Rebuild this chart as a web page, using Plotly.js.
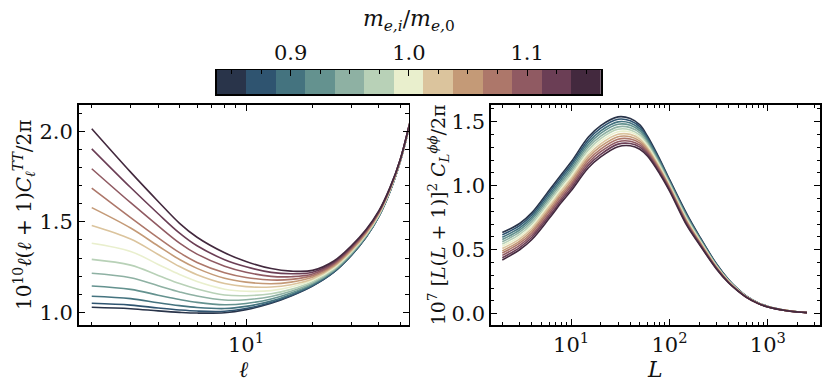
<!DOCTYPE html>
<html>
<head>
<meta charset="utf-8">
<script src="https://cdn.plot.ly/plotly-3.0.1.min.js"></script>
<style>html,body{margin:0;padding:0;background:#fff;}</style>
</head>
<body>
<div id="chart" style="width:831px;height:392px"></div>
<script>
// electron mass ratio of each curve, and the colour used for it
const massValues = [0.85, 0.875, 0.9, 0.925, 0.95, 0.975, 1.0, 1.025, 1.05, 1.075, 1.1, 1.125, 1.15];
const massColors = [
  "#29344a", "#2f5470", "#44737f", "#64928f", "#8eb1a3", "#b8d1b7", "#e9efcd",
  "#dbc49d", "#c49a77", "#ad776a", "#905a62", "#6b3e55", "#43293e",
];

// left panel: 10^10 l(l+1) C_l^TT / 2pi
const ellValues = [2, 3, 4, 5, 6, 8, 10, 13, 16, 20, 25, 30, 35, 40, 45, 50, 55, 60];
const ttSpectra = [
  [1.028, 1.020, 1.008, 1.000, 0.996, 0.998, 1.015, 1.050, 1.090, 1.145, 1.222, 1.315, 1.415, 1.530, 1.670, 1.835, 2.030, 2.240],
  [1.050, 1.040, 1.024, 1.013, 1.007, 1.006, 1.021, 1.054, 1.093, 1.147, 1.223, 1.316, 1.416, 1.531, 1.671, 1.835, 2.030, 2.240],
  [1.089, 1.076, 1.053, 1.037, 1.027, 1.021, 1.033, 1.062, 1.099, 1.151, 1.226, 1.318, 1.418, 1.532, 1.672, 1.836, 2.031, 2.240],
  [1.146, 1.127, 1.095, 1.071, 1.055, 1.042, 1.049, 1.074, 1.107, 1.156, 1.230, 1.322, 1.420, 1.534, 1.673, 1.837, 2.031, 2.240],
  [1.216, 1.191, 1.147, 1.113, 1.090, 1.068, 1.070, 1.088, 1.116, 1.162, 1.234, 1.325, 1.424, 1.536, 1.675, 1.837, 2.032, 2.240],
  [1.293, 1.261, 1.204, 1.159, 1.129, 1.096, 1.092, 1.103, 1.127, 1.169, 1.239, 1.330, 1.427, 1.539, 1.677, 1.838, 2.033, 2.240],
  [1.382, 1.337, 1.265, 1.209, 1.170, 1.128, 1.117, 1.120, 1.140, 1.177, 1.245, 1.335, 1.431, 1.542, 1.679, 1.840, 2.034, 2.240],
  [1.480, 1.405, 1.320, 1.253, 1.208, 1.159, 1.142, 1.140, 1.153, 1.184, 1.251, 1.340, 1.435, 1.545, 1.681, 1.841, 2.035, 2.240],
  [1.579, 1.466, 1.367, 1.292, 1.243, 1.188, 1.167, 1.158, 1.167, 1.194, 1.257, 1.345, 1.439, 1.548, 1.683, 1.842, 2.037, 2.240],
  [1.687, 1.524, 1.412, 1.330, 1.276, 1.219, 1.193, 1.179, 1.182, 1.203, 1.264, 1.351, 1.444, 1.551, 1.686, 1.843, 2.038, 2.240],
  [1.794, 1.606, 1.478, 1.383, 1.322, 1.255, 1.222, 1.199, 1.197, 1.212, 1.270, 1.356, 1.449, 1.555, 1.688, 1.844, 2.039, 2.240],
  [1.904, 1.690, 1.545, 1.438, 1.368, 1.291, 1.252, 1.221, 1.213, 1.222, 1.277, 1.362, 1.454, 1.558, 1.691, 1.846, 2.040, 2.240],
  [2.015, 1.775, 1.613, 1.492, 1.415, 1.329, 1.281, 1.242, 1.228, 1.232, 1.284, 1.368, 1.458, 1.562, 1.694, 1.847, 2.042, 2.240],
];

// right panel: 10^7 [L(L+1)]^2 C_L^phiphi / 2pi
const lValues = [2, 3, 4, 6, 8, 10, 15, 20, 30, 40, 50, 60, 80, 100, 150, 200, 300, 400, 500, 600, 800, 1000, 1500, 2000, 2500];
const phiSpectra = [
  [0.634, 0.705, 0.790, 0.965, 1.090, 1.185, 1.380, 1.470, 1.538, 1.525, 1.475, 1.385, 1.205, 1.050, 0.780, 0.610, 0.390, 0.265, 0.190, 0.140, 0.085, 0.057, 0.027, 0.015, 0.009],
  [0.616, 0.688, 0.773, 0.947, 1.072, 1.166, 1.360, 1.450, 1.519, 1.507, 1.459, 1.372, 1.195, 1.043, 0.773, 0.605, 0.387, 0.263, 0.189, 0.139, 0.085, 0.057, 0.027, 0.015, 0.009],
  [0.598, 0.671, 0.755, 0.928, 1.053, 1.148, 1.340, 1.429, 1.499, 1.490, 1.443, 1.359, 1.186, 1.035, 0.765, 0.599, 0.383, 0.261, 0.188, 0.138, 0.084, 0.056, 0.027, 0.015, 0.009],
  [0.580, 0.654, 0.738, 0.910, 1.035, 1.129, 1.320, 1.409, 1.480, 1.472, 1.428, 1.346, 1.176, 1.028, 0.758, 0.594, 0.380, 0.259, 0.186, 0.137, 0.084, 0.056, 0.027, 0.015, 0.009],
  [0.563, 0.637, 0.720, 0.892, 1.017, 1.110, 1.300, 1.388, 1.460, 1.454, 1.412, 1.333, 1.167, 1.020, 0.750, 0.588, 0.377, 0.257, 0.185, 0.136, 0.083, 0.055, 0.026, 0.015, 0.009],
  [0.545, 0.620, 0.703, 0.873, 0.998, 1.091, 1.280, 1.368, 1.441, 1.436, 1.396, 1.320, 1.157, 1.013, 0.743, 0.583, 0.373, 0.255, 0.184, 0.135, 0.082, 0.055, 0.026, 0.015, 0.009],
  [0.527, 0.603, 0.685, 0.855, 0.980, 1.073, 1.260, 1.348, 1.422, 1.419, 1.380, 1.308, 1.148, 1.005, 0.735, 0.578, 0.370, 0.253, 0.182, 0.135, 0.082, 0.055, 0.026, 0.015, 0.009],
  [0.509, 0.585, 0.668, 0.837, 0.962, 1.054, 1.240, 1.327, 1.402, 1.401, 1.364, 1.295, 1.138, 0.998, 0.728, 0.572, 0.367, 0.250, 0.181, 0.134, 0.081, 0.055, 0.026, 0.015, 0.009],
  [0.491, 0.568, 0.650, 0.818, 0.943, 1.035, 1.220, 1.307, 1.383, 1.383, 1.348, 1.282, 1.128, 0.990, 0.720, 0.567, 0.363, 0.248, 0.180, 0.133, 0.081, 0.054, 0.026, 0.014, 0.009],
  [0.474, 0.551, 0.633, 0.800, 0.925, 1.016, 1.200, 1.286, 1.363, 1.365, 1.333, 1.269, 1.119, 0.983, 0.713, 0.561, 0.360, 0.246, 0.179, 0.132, 0.080, 0.054, 0.026, 0.014, 0.009],
  [0.456, 0.534, 0.615, 0.782, 0.907, 0.998, 1.180, 1.266, 1.344, 1.348, 1.317, 1.256, 1.109, 0.975, 0.705, 0.556, 0.357, 0.244, 0.178, 0.131, 0.080, 0.053, 0.025, 0.014, 0.009],
  [0.438, 0.517, 0.598, 0.763, 0.888, 0.979, 1.160, 1.245, 1.325, 1.330, 1.301, 1.243, 1.100, 0.968, 0.698, 0.550, 0.353, 0.242, 0.176, 0.131, 0.079, 0.053, 0.025, 0.014, 0.009],
  [0.420, 0.500, 0.580, 0.745, 0.870, 0.960, 1.140, 1.225, 1.305, 1.312, 1.285, 1.230, 1.090, 0.960, 0.690, 0.545, 0.350, 0.240, 0.175, 0.130, 0.079, 0.053, 0.025, 0.014, 0.009],
];

// tick labels
const colorTickVals = [0.9, 1.0, 1.1];
const colorTickText = ["0.9", "1.0", "1.1"];
const ellTickVals = [10];
const ellTickText = ["10<sup>1</sup>"];
const ellMinorVals = [2, 3, 4, 5, 6, 7, 8, 9, 20, 30, 40, 50];
const lTickVals = [10, 100, 1000];
const lTickText = ["10<sup>1</sup>", "10<sup>2</sup>", "10<sup>3</sup>"];
const lMinorVals = [2, 3, 4, 5, 6, 7, 8, 9, 20, 30, 40, 50, 60, 70, 80, 90,
  200, 300, 400, 500, 600, 700, 800, 900, 2000, 3000];

const serif = "'DejaVu Serif', 'Liberation Serif', serif";
const W = 831, H = 392;

const traces = [];
ttSpectra.forEach((vals, i) => {
  traces.push({
    type: "scatter", mode: "lines", x: ellValues, y: vals,
    xaxis: "x", yaxis: "y",
    line: { color: massColors[i], width: 1.6, shape: "spline", smoothing: 1 },
    showlegend: false, hoverinfo: "skip",
  });
});
phiSpectra.forEach((vals, i) => {
  traces.push({
    type: "scatter", mode: "lines", x: lValues, y: vals,
    xaxis: "x2", yaxis: "y2",
    line: { color: massColors[i], width: 1.6, shape: "spline", smoothing: 1 },
    showlegend: false, hoverinfo: "skip",
  });
});
// colour bar drawn as a one-row heatmap
traces.push({
  type: "heatmap", x: massValues, y: [0], z: [massValues],
  xaxis: "x3", yaxis: "y3",
  zmin: 0.85, zmax: 1.15,
  colorscale: massColors.map((c, i) => [i / 12, c]),
  showscale: false, hoverinfo: "skip",
});

function frameAxis(extra) {
  return Object.assign({
    showline: true, linecolor: "#000", linewidth: 1.5, mirror: "allticks",
    ticks: "inside", ticklen: 6, tickwidth: 1, tickcolor: "#000",
    showgrid: false, zeroline: false,
    tickfont: { family: serif, size: 21, color: "#111" },
  }, extra);
}

const layout = {
  width: W, height: H,
  margin: { l: 0, r: 0, t: 0, b: 0 },
  paper_bgcolor: "#fff", plot_bgcolor: "#fff",
  font: { family: serif, color: "#111" },
  xaxis: frameAxis({
    type: "log", domain: [78.5 / W, 408.7 / W], range: [0.241, 1.737],
    tickvals: ellTickVals, ticktext: ellTickText,
    minor: { tickvals: ellMinorVals, ticks: "inside", ticklen: 3.5, tickcolor: "#000" },
    title: { text: "<i>ℓ</i>", font: { family: serif, size: 22 }, standoff: 2 },
    anchor: "y",
  }),
  yaxis: frameAxis({
    domain: [(H - 325) / H, (H - 104.7) / H], range: [0.93, 2.148],
    tickvals: [1.0, 1.5, 2.0], ticktext: ["1.0", "1.5", "2.0"],
    minor: { dtick: 0.1, tick0: 0, ticks: "inside", ticklen: 3.5, tickcolor: "#000" },
    title: {
      text: "10<sup>10</sup><i>ℓ</i>(<i>ℓ</i> + 1)<i>C</i><sub><i>ℓ</i></sub><sup><i>TT</i></sup>/2π",
      font: { family: serif, size: 20 }, standoff: 2,
    },
    anchor: "x",
  }),
  xaxis2: frameAxis({
    type: "log", domain: [490.7 / W, 820 / W], range: [0.183, 3.53],
    tickvals: lTickVals, ticktext: lTickText,
    minor: { tickvals: lMinorVals, ticks: "inside", ticklen: 3.5, tickcolor: "#000" },
    title: { text: "<i>L</i>", font: { family: serif, size: 22 }, standoff: 2 },
    anchor: "y2",
  }),
  yaxis2: frameAxis({
    domain: [(H - 325) / H, (H - 104.7) / H], range: [-0.088, 1.633],
    tickvals: [0.0, 0.5, 1.0, 1.5], ticktext: ["0.0", "0.5", "1.0", "1.5"],
    minor: { dtick: 0.1, tick0: 0, ticks: "inside", ticklen: 3.5, tickcolor: "#000" },
    title: {
      text: "10<sup>7</sup> [<i>L</i>(<i>L</i> + 1)]<sup>2</sup> <i>C</i><sub><i>L</i></sub><sup><i>ϕϕ</i></sup>/2π",
      font: { family: serif, size: 19 }, standoff: 0,
    },
    anchor: "x2",
  }),
  xaxis3: {
    domain: [216.7 / W, 601 / W], range: [0.8375, 1.1625],
    side: "top", anchor: "y3",
    showline: true, linecolor: "#000", linewidth: 1.5, mirror: true,
    ticks: "inside", ticklen: 6, tickwidth: 1, tickcolor: "#000",
    tickvals: colorTickVals, ticktext: colorTickText,
    minor: { dtick: 0.025, tick0: 0.85, ticks: "inside", ticklen: 3.5, tickcolor: "#000" },
    showgrid: false, zeroline: false,
    tickfont: { family: serif, size: 21, color: "#111" },
    title: {
      text: "<i>m</i><sub><i>e,i</i></sub>/<i>m</i><sub><i>e,</i>0</sub>",
      font: { family: serif, size: 22 }, standoff: 8,
    },
  },
  yaxis3: {
    domain: [(H - 94) / H, (H - 70) / H], range: [-0.5, 0.5],
    anchor: "x3", showline: true, linecolor: "#000", linewidth: 1.5, mirror: true,
    showticklabels: false, ticks: "", showgrid: false, zeroline: false,
  },
};

Plotly.newPlot("chart", traces, layout, { displayModeBar: false, staticPlot: true });
</script>
</body>
</html>
